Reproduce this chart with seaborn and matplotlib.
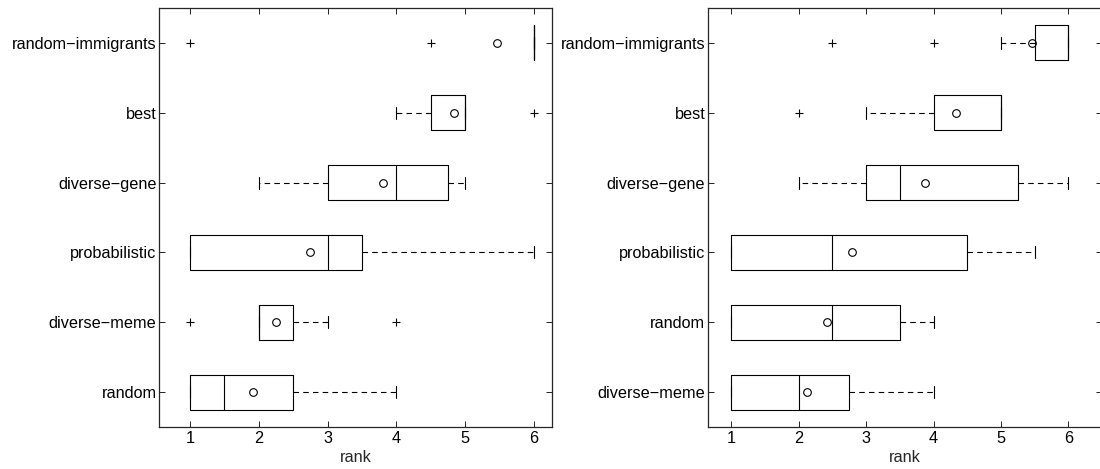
import matplotlib
matplotlib.use("Agg")
import matplotlib.pyplot as plt
import pandas as pd
import seaborn as sns

MINUS = "\u2212"

# strategy order, top to bottom
LEFT_ORDER = [f"random{MINUS}immigrants", "best", f"diverse{MINUS}gene",
              "probabilistic", f"diverse{MINUS}meme", "random"]
RIGHT_ORDER = [f"random{MINUS}immigrants", "best", f"diverse{MINUS}gene",
               "probabilistic", "random", f"diverse{MINUS}meme"]

# ranks per strategy, left panel
left_random_immigrants = [1, 4.5, 6, 6, 6, 6, 6, 6, 6, 6, 6, 6]
left_best = [4, 4.5, 4.5, 4.5, 4.5, 5, 5, 5, 5, 5, 5, 6]
left_diverse_gene = [2, 3, 3, 3, 4, 4, 4, 5, 5, 5]
left_probabilistic = [1, 1, 1, 1, 2, 3, 3, 3, 3.5, 3.5, 5, 6]
left_diverse_meme = [1, 2, 2, 2, 2, 2, 2, 2, 2.5, 2.5, 3, 4]
left_random = [1, 1, 1, 1, 1, 1, 2, 2, 2.5, 2.5, 4, 4]

# ranks per strategy, right panel
right_random_immigrants = [2.5, 4, 5, 5.5, 5.5, 6, 6, 6, 6, 6, 6, 6, 6, 6]
right_best = [2, 3, 4, 4, 4, 5, 5, 5, 5, 5, 5, 5]
right_diverse_gene = [2, 2, 3, 3, 3, 3.5, 3.5, 3.5, 5, 6, 6, 6]
right_probabilistic = [1, 1, 1, 1, 1, 2, 3, 4, 4.5, 4.5, 5, 5.5]
right_random = [1, 1, 1, 1, 2, 2, 3, 3, 3.5, 3.5, 4, 4]
right_diverse_meme = [1, 1, 1, 1, 2, 2, 2, 2, 2.5, 3.5, 3.5, 4]

X_TICKS = [1, 2, 3, 4, 5, 6]


def to_long(order, groups):
    rows = []
    for name, values in zip(order, groups):
        rows += [{"strategy": name, "rank": v} for v in values]
    return pd.DataFrame(rows)


left_df = to_long(LEFT_ORDER, [left_random_immigrants, left_best, left_diverse_gene,
                               left_probabilistic, left_diverse_meme, left_random])
right_df = to_long(RIGHT_ORDER, [right_random_immigrants, right_best, right_diverse_gene,
                                 right_probabilistic, right_random, right_diverse_meme])

sns.set_style("ticks")
plt.rcParams["font.family"] = ["Liberation Sans", "DejaVu Sans"]
plt.rcParams["lines.scale_dashes"] = False

fig = plt.figure(figsize=(11, 4.69), dpi=100)
W, H = 1100, 469
ax_l = fig.add_axes([159.3 / W, 42 / H, 392.7 / W, 419 / H])
# right panel runs just past the figure edge, so its right spine is cut off
ax_r = fig.add_axes([708 / W, 42 / H, 394 / W, 419 / H])

for ax, df, order, xlim in [(ax_l, left_df, LEFT_ORDER, (0.554, 6.26)),
                            (ax_r, right_df, RIGHT_ORDER, (0.654, 6.50))]:
    sns.boxplot(
        data=df, x="rank", y="strategy", order=order, orient="y", ax=ax,
        fill=False, color="black", linewidth=0.8, width=0.5, whis=1.5,
        showmeans=True,
        meanprops=dict(marker="o", markerfacecolor="none", markeredgecolor="black",
                       markersize=5.5, markeredgewidth=0.8),
        flierprops=dict(marker="+", markersize=6, markeredgecolor="black",
                        markeredgewidth=0.8),
        whiskerprops=dict(linestyle=(0, (4, 3))),
        capwidths=0.17,
    )
    ax.set_xlim(*xlim)
    ax.set_ylim(len(order) - 0.5, -0.5)
    ax.set_xticks(X_TICKS)
    ax.set_xlabel("rank", fontsize=11.7, labelpad=3)
    ax.set_ylabel("")
    for side in ["top", "right", "left", "bottom"]:
        ax.spines[side].set_visible(True)
        ax.spines[side].set_linewidth(0.9)
    ax.tick_params(direction="in", top=True, right=True, length=4, width=0.6,
                   labelsize=11.7, colors="black")
    ax.tick_params(axis="x", pad=3)
    ax.tick_params(axis="y", pad=2)

fig.savefig("out.png", dpi=100)
